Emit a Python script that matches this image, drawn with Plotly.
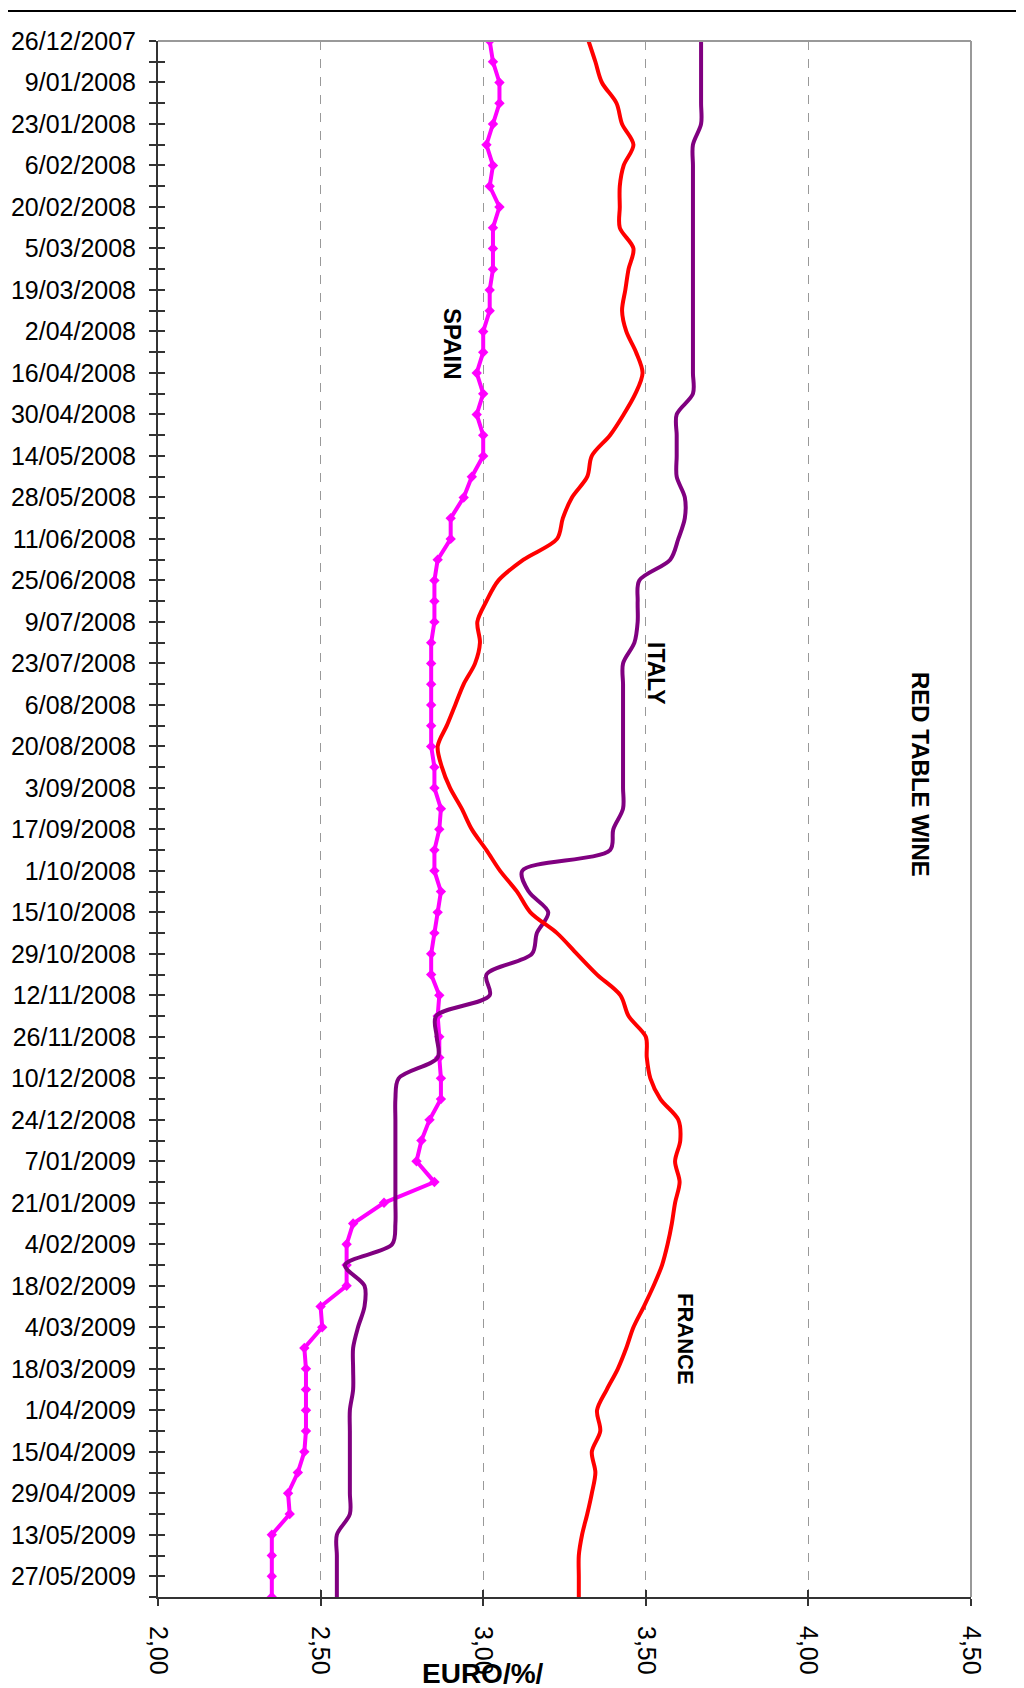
import plotly.graph_objects as go
import pandas as pd

# ---------------- data ----------------
tick_labels = ["26/12/2007", "9/01/2008", "23/01/2008", "6/02/2008", "20/02/2008", "5/03/2008",
               "19/03/2008", "2/04/2008", "16/04/2008", "30/04/2008", "14/05/2008", "28/05/2008",
               "11/06/2008", "25/06/2008", "9/07/2008", "23/07/2008", "6/08/2008", "20/08/2008",
               "3/09/2008", "17/09/2008", "1/10/2008", "15/10/2008", "29/10/2008", "12/11/2008",
               "26/11/2008", "10/12/2008", "24/12/2008", "7/01/2009", "21/01/2009", "4/02/2009",
               "18/02/2009", "4/03/2009", "18/03/2009", "1/04/2009", "15/04/2009", "29/04/2009",
               "13/05/2009", "27/05/2009"]

weeks = pd.date_range("2007-12-26", "2009-06-03", freq="7D")

x_ticks = [2.0, 2.5, 3.0, 3.5, 4.0, 4.5]

spain = [3.02, 3.03, 3.05, 3.05, 3.03, 3.01, 3.03, 3.02, 3.05, 3.03,
         3.03, 3.03, 3.02, 3.02, 3.00, 3.00, 2.98, 3.00, 2.98, 3.00,
         3.00, 2.965, 2.94, 2.90, 2.90, 2.86, 2.85, 2.85, 2.85, 2.84,
         2.84, 2.84, 2.84, 2.84, 2.84, 2.85, 2.85, 2.87, 2.865, 2.85,
         2.85, 2.87, 2.86, 2.85, 2.84, 2.84, 2.865, 2.86, 2.865, 2.865,
         2.87, 2.87, 2.835, 2.81, 2.795, 2.85, 2.695, 2.60, 2.58, 2.58,
         2.58, 2.50, 2.505, 2.45, 2.455, 2.455, 2.455, 2.455, 2.45, 2.43,
         2.40, 2.405, 2.35, 2.35, 2.35, 2.35]

italy = [3.67, 3.67, 3.67, 3.67, 3.67,
         3.645, 3.645, 3.645, 3.645, 3.645, 3.645, 3.645, 3.645, 3.645, 3.645, 3.645, 3.645, 3.645,
         3.595, 3.595, 3.595, 3.595,
         3.62, 3.62, 3.60, 3.575, 3.48, 3.475, 3.475, 3.465,
         3.43, 3.43, 3.43, 3.43, 3.43, 3.43, 3.43, 3.43,
         3.40, 3.39, 3.12, 3.14, 3.20, 3.165, 3.15, 3.01, 3.02, 2.855, 2.857, 2.86,
         2.74, 2.73, 2.73, 2.73, 2.73, 2.73, 2.73, 2.73,
         2.72, 2.575, 2.635, 2.635, 2.615, 2.60, 2.60, 2.60,
         2.59, 2.59, 2.59, 2.59, 2.59, 2.59,
         2.55, 2.55, 2.55, 2.55]

france = [3.324, 3.345, 3.365, 3.41, 3.427, 3.462, 3.432, 3.42, 3.42, 3.42,
          3.462, 3.447, 3.437, 3.427, 3.44, 3.47, 3.49, 3.468, 3.432, 3.39,
          3.334, 3.32, 3.273, 3.245, 3.227, 3.124, 3.047, 3.01, 2.982, 2.99,
          2.975, 2.94, 2.914, 2.888, 2.86, 2.873, 2.898, 2.934, 2.965, 3.01,
          3.052, 3.104, 3.145, 3.227, 3.288, 3.35, 3.422, 3.447, 3.50, 3.503,
          3.514, 3.545, 3.60, 3.606, 3.59, 3.604, 3.59, 3.58, 3.567, 3.55,
          3.524, 3.494, 3.462, 3.44, 3.414, 3.38, 3.35, 3.36, 3.334, 3.345,
          3.334, 3.32, 3.304, 3.294, 3.294, 3.294]

# ---------------- figure ----------------
OFF = 8                      # default page body margin
W, H = 1024 - OFF, 1688 - OFF
L, R, T, B = 158 - OFF, 53, 41 - OFF, 91
PW, PH = W - L - R, H - T - B


def px(x, y):
    """screen pixel -> paper coordinates"""
    return (x - OFF - L) / PW, (H - B - (y - OFF)) / PH


FONT = "Liberation Sans, Arial, sans-serif"
tick_dates = pd.to_datetime(tick_labels, format="%d/%m/%Y")
y_range = [weeks[-1], weeks[0]]

fig = go.Figure()
fig.add_trace(go.Scatter(x=spain, y=weeks, mode="lines+markers", name="SPAIN",
                         line=dict(color="#FF00FF", width=4),
                         marker=dict(symbol="diamond", size=8, color="#FF00FF")))
fig.add_trace(go.Scatter(x=italy, y=weeks, mode="lines", name="ITALY",
                         line=dict(color="#800080", width=4, shape="spline", smoothing=0.9)))
fig.add_trace(go.Scatter(x=france, y=weeks, mode="lines", name="FRANCE",
                         line=dict(color="#FF0000", width=4, shape="spline", smoothing=0.9)))
# helper trace for the overlay axes (inner half of the crossing ticks)
fig.add_trace(go.Scatter(x=[None], y=[None], xaxis="x2", yaxis="y2",
                         showlegend=False, hoverinfo="skip"))

axcol = "#333333"
fig.update_layout(
    width=W, height=H,
    margin=dict(l=L, r=R, t=T, b=B, autoexpand=False),
    paper_bgcolor="white", plot_bgcolor="white",
    showlegend=False,
    separators=", ",
    font=dict(family=FONT, color="black", size=24),
    xaxis=dict(range=[2, 4.5], tickmode="array", tickvals=x_ticks, tickformat=".2f",
               tickangle=90, ticks="outside", ticklen=7, tickwidth=1.5, tickcolor=axcol,
               showline=True, linecolor=axcol, linewidth=2, automargin=False,
               showgrid=True, gridcolor="#999999", gridwidth=1, griddash="dash",
               zeroline=False, tickfont=dict(size=25), ticklabelstandoff=15),
    yaxis=dict(type="date", range=y_range, tickmode="array", tickvals=tick_dates,
               ticktext=tick_labels, ticks="outside", ticklen=7, tickwidth=1.5, tickcolor=axcol,
               minor=dict(dtick=7 * 86400000, tick0="2007-12-26", ticks="outside", ticklen=7,
                          tickwidth=1.5, tickcolor=axcol, showgrid=False),
               showline=True, linecolor=axcol, linewidth=2, showgrid=False, zeroline=False,
               automargin=False, tickfont=dict(size=25), ticklabelstandoff=8),
    xaxis2=dict(overlaying="x", anchor="y2", side="bottom", range=[2, 4.5], tickmode="array",
                tickvals=x_ticks, ticks="inside", ticklen=7, tickwidth=1.5, tickcolor=axcol,
                automargin=False,
                showticklabels=False, showgrid=False, showline=False, zeroline=False),
    yaxis2=dict(overlaying="y", anchor="x2", side="left", type="date", range=y_range,
                tickmode="array", tickvals=tick_dates, ticks="inside", ticklen=7, tickwidth=1.5,
                tickcolor=axcol, automargin=False,
                minor=dict(dtick=7 * 86400000, tick0="2007-12-26", ticks="inside", ticklen=7,
                           tickwidth=1.5, tickcolor=axcol, showgrid=False),
                showticklabels=False, showgrid=False, showline=False, zeroline=False),
)

# plot-area top/right border (grey) and outer frame (black)
shapes = [
    dict(type="line", xref="paper", yref="paper", x0=0, x1=1, y0=1, y1=1,
         line=dict(color="#999999", width=2)),
    dict(type="line", xref="paper", yref="paper", x0=1, x1=1, y0=0, y1=1,
         line=dict(color="#999999", width=2)),
]
fx0, fy0 = px(0, 11)
fx1, fy1 = px(1019, 1700)
shapes += [
    dict(type="line", xref="paper", yref="paper", x0=fx0, x1=fx1, y0=fy0, y1=fy0,
         line=dict(color="black", width=2)),
    dict(type="line", xref="paper", yref="paper", x0=fx1, x1=fx1, y0=fy0, y1=fy1,
         line=dict(color="black", width=2)),
]
fig.update_layout(shapes=shapes)

labels = [("SPAIN", 452, 344, 24), ("ITALY", 656, 673, 23), ("FRANCE", 686, 1339, 22),
          ("RED TABLE WINE", 921, 774, 24)]
for text, lx, ly, sz in labels:
    ax_, ay_ = px(lx, ly)
    fig.add_annotation(x=ax_, y=ay_, xref="paper", yref="paper", text=text, showarrow=False,
                       textangle=90, xanchor="center", yanchor="middle",
                       font=dict(family=FONT, size=sz, color="black", weight="bold"))

tx, ty = px(483, 1673)
fig.add_annotation(x=tx, y=ty, xref="paper", yref="paper", text="EURO/%/", showarrow=False,
                   xanchor="center", yanchor="middle",
                   font=dict(family=FONT, size=28, color="black", weight="bold"))

fig.write_html("out.html")
